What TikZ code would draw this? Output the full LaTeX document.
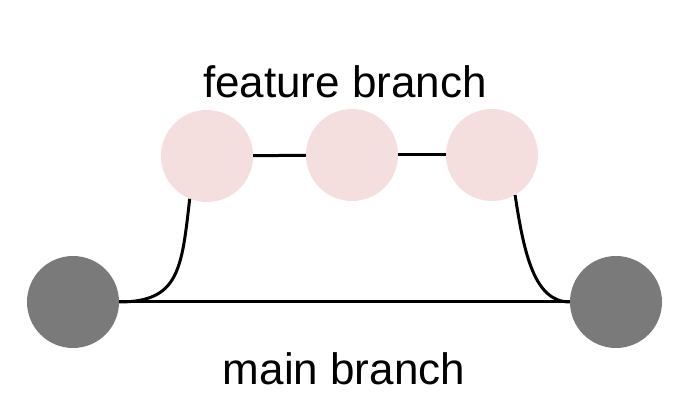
\documentclass[tikz,border=0pt]{standalone}
\usepackage{fontspec}
\setmainfont{Liberation Sans}
\definecolor{commitgray}{RGB}{122,122,122}
\definecolor{commitpink}{RGB}{244,222,222}
\tikzset{
  maincommit/.style={circle, fill=commitgray, minimum size=92pt, inner sep=0pt},
  featcommit/.style={circle, fill=commitpink, minimum size=92pt, inner sep=0pt},
  conn/.style={line width=3pt, black},
  lbl/.style={anchor=base, font=\fontsize{44pt}{48pt}\selectfont, inner sep=0pt}
}
\begin{document}
\begin{tikzpicture}[x=1pt,y=1pt]
\useasboundingbox (0,0) rectangle (690,414);
\node[maincommit] (L) at (73,112) {};
\node[maincommit] (R) at (616,112) {};
\node[featcommit] (P1) at (207,258) {};
\node[featcommit] (P2) at (352,259) {};
\node[featcommit] (P3) at (492,259) {};
\draw[conn] (L.east) -- (R.west);
\draw[conn] (L.east) .. controls +(60,0) and +(-8,-70) .. (P1.248);
\draw[conn] (P1) -- (P2);
\draw[conn] (P2) -- (P3);
\draw[conn] (P3.-60) .. controls +(9,-60) and +(-35,0) .. (R.west);
\node[lbl] (ft) at (345,316) {feature branch};
\node[lbl] (mt) at (344,29) {main branch};
\end{tikzpicture}
\end{document}
